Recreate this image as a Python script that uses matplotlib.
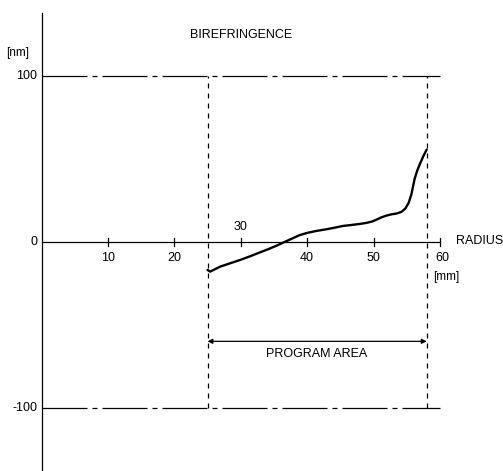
import matplotlib
matplotlib.use("Agg")
import matplotlib.pyplot as plt
import numpy as np

# Data
radius = [25.0, 25.4, 26.9, 28.4, 29.9, 31.4, 32.9, 34.2, 35.4, 36.9, 38.0, 38.9, 40.0,
          41.4, 42.9, 44.2, 45.4, 46.7, 47.9, 49.0, 49.8, 50.5, 51.2, 52.0, 52.7,
          53.5, 54.2, 54.8, 55.3, 55.7, 56.2, 56.6, 57.0, 57.5, 58.0]
biref = [-17.0, -18.0, -15.0, -13.0, -11.0, -8.8, -6.4, -4.4, -2.4, 0.4, 2.4, 4.0, 5.3,
         6.5, 7.5, 8.5, 9.5, 10.1, 10.7, 11.4, 12.2, 13.4, 14.7, 15.8, 16.5,
         17.0, 18.0, 20.0, 23.5, 28.5, 38.0, 43.0, 47.0, 51.5, 55.5]
x_ticks = [10, 20, 30, 40, 50, 60]
x_tick_labels = ["10", "20", "30", "40", "50", "60"]
y_levels = [100, -100]
y_tick_labels = ["100", "0", "-100"]
program_start, program_end = 25, 58

plt.rcParams['font.family'] = ['Liberation Sans', 'DejaVu Sans']
fig = plt.figure(figsize=(5.03, 4.71), dpi=100)
ax = fig.add_axes([0, 0, 1, 1])
ax.set_xlim(-6.25, 69.5)
ax.set_ylim(-138.1, 145.6)
ax.axis('off')

k = 'black'
# axes
ax.plot([0, 0], [-138, 138], color=k, lw=0.9)
ax.plot([0, 60], [0, 0], color=k, lw=0.9)
for t in x_ticks:
    ax.plot([t, t], [-2.5, 2.5], color=k, lw=0.9)

# dash-dot horizontal levels
for lv in y_levels:
    ax.plot([0, 60], [lv, lv], color=k, lw=0.9, dashes=(36, 4, 4, 4))

# dashed verticals
ax.plot([program_start, program_start], [-100, 100], color=k, lw=0.9, dashes=(4, 4))
ax.plot([program_end, program_end], [-100, 100], color=k, lw=0.9, dashes=(4, 4))

# curve
ax.plot(radius, biref, color=k, lw=1.7, solid_capstyle='round', solid_joinstyle='round')

# tick labels
fs = 9
for t, lab in zip(x_ticks, x_tick_labels):
    if t == 30:
        ax.text(t, 5, lab, ha='center', va='bottom', fontsize=fs)
    else:
        ax.text(t + (0.3 if t == 60 else 0), -6, lab, ha='center', va='top', fontsize=fs)
for v, lab in zip([100, 0, -100], y_tick_labels):
    ax.text(-0.6, v, lab, ha='right', va='center', fontsize=fs)

ax.text(30, 124.5, "BIREFRINGENCE", ha='center', va='center', fontsize=fs)
ax.text(-3.6, 113.5, "[nm]", ha='center', va='center', fontsize=fs - 0.5)
ax.text(62.4, 0.5, "RADIUS", ha='left', va='center', fontsize=fs)
ax.text(59.0, -21.5, "[mm]", ha='left', va='center', fontsize=fs - 0.5)

# program area arrow
ax.annotate("", xy=(program_start, -60), xytext=(program_end, -60),
            arrowprops=dict(arrowstyle='<|-|>', color=k, lw=0.9,
                            mutation_scale=7, shrinkA=0, shrinkB=0))
ax.text((program_start + program_end) / 2, -67.5, "PROGRAM AREA",
        ha='center', va='center', fontsize=fs)

fig.savefig("out.png", dpi=100)
